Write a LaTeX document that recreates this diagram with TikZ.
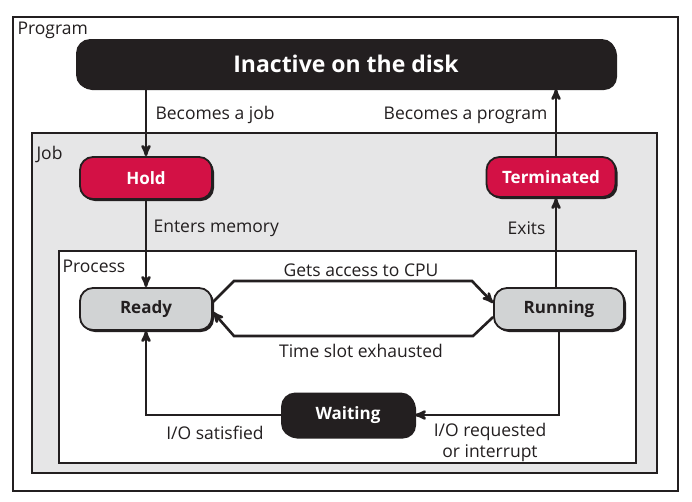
\documentclass[tikz,border=0pt]{standalone}
\usepackage{fontspec}
\setmainfont{Open Sans}
\usetikzlibrary{arrows,shadows}

\definecolor{inkblack}{HTML}{231F20}
\definecolor{holdred}{HTML}{D31145}
\definecolor{readygray}{HTML}{D1D3D4}
\definecolor{jobgray}{HTML}{E6E6E7}

\begin{document}
\begin{tikzpicture}[x=1pt,y=-1pt,>=stealth',color=inkblack,
	font=\fontsize{17.5}{21}\selectfont,
	state node/.style={rounded corners=13pt,draw=inkblack,line width=1.8pt,
		minimum width=132pt,minimum height=42pt,
		font=\fontsize{17}{20}\selectfont\bfseries,
		drop shadow={shadow xshift=2pt,shadow yshift=-2pt,fill=inkblack,opacity=1}},
	red node/.style={state node,fill=holdred,text=white},
	gray node/.style={state node,fill=readygray,text=inkblack},
	dark node/.style={state node,fill=inkblack,text=white},
	flow/.style={->,line width=2.6pt,draw=inkblack},
	frame/.style={draw=inkblack,line width=1.5pt}]
	
	\useasboundingbox (0,0) rectangle (692,501);
	
	% nested boxes
	\draw[frame] (13,17) rectangle (678,491);
	\draw[frame,fill=jobgray,line width=2pt] (32,133) rectangle (657,473);
	\draw[frame,fill=white] (59,251) rectangle (636,463);
	\node[anchor=west] (prog) at (14,30) {Program};
	\node[anchor=west] (job) at (33,154) {Job};
	\node[anchor=west] (proc) at (59,266) {Process};
	
	% states
	\node[dark node,minimum width=538pt,minimum height=48pt,
		font=\fontsize{23}{27}\selectfont\bfseries] (disk) at (346,64) {Inactive on the disk};
	\node[red node] (hold) at (146,178) {Hold};
	\node[red node,minimum width=129pt,minimum height=40pt] (term) at (551,177) {Terminated};
	\node[gray node] (ready) at (146,309) {Ready};
	\node[gray node,minimum width=130pt] (run) at (559,309) {Running};
	\node[dark node,minimum height=43pt] (wait) at (348,415) {Waiting};
	
	% transitions
	\draw[flow] (disk.south -| hold.north) -- (hold.north);
	\draw[flow] ([xshift=5pt]term.north) -- ([xshift=5pt]term.north |- disk.south);
	\draw[flow] (hold.south) -- (ready.north);
	\draw[flow] ([xshift=-3pt]run.north) -- ([xshift=5pt]term.south);
	\draw[flow] ([yshift=7pt]ready.east) -- (234,281) -- (472,281) -- ([yshift=6pt]run.west);
	\draw[flow] ([yshift=-8pt]run.west) -- (473,336) -- (234,336) -- ([yshift=-3pt]ready.east);
	\draw[flow] (run.south) |- (wait.east);
	\draw[flow] (wait.west) -| (ready.south);
	
	% labels
	\node[anchor=west] (l1) at (152,115) {Becomes a job};
	\node[anchor=east] (l2) at (551,115) {Becomes a program};
	\node[anchor=west] (l3) at (150,228) {Enters memory};
	\node[anchor=east] (l4) at (549,228) {Exits};
	\node (l5) at (361,270) {Gets access to CPU};
	\node (l6) at (361,351) {Time slot exhausted};
	\node (l7) at (215,433) {I/O satisfied};
	\node[align=center] (l8) at (490,442) {I/O requested\\or interrupt};
	
\end{tikzpicture}
\end{document}
